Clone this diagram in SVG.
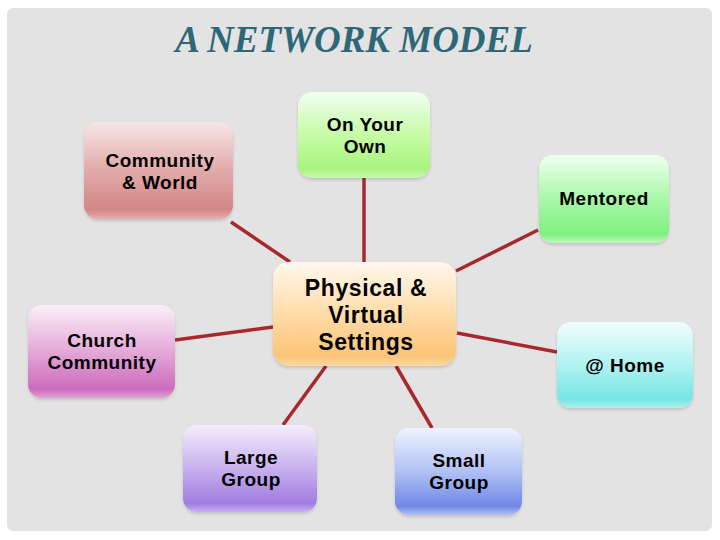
<svg xmlns="http://www.w3.org/2000/svg" width="720" height="540" viewBox="0 0 720 540">
<defs>
<style>
.t{font-family:"Liberation Sans",Arial,sans-serif;font-weight:bold;font-size:19px;letter-spacing:0.5px;fill:#000;text-anchor:middle}
.big{font-size:23px;letter-spacing:0.6px}
.title{font-family:"Liberation Serif","Times New Roman",serif;font-weight:bold;font-style:italic;font-size:37px;fill:#2e6878}
.c line{stroke:#a8282e;stroke-width:3.5;stroke-linecap:butt}
.n rect{filter:url(#sh)}
</style>
<filter id="sh" x="-10%" y="-10%" width="120%" height="125%">
<feDropShadow dx="0" dy="2" stdDeviation="1.5" flood-color="#000" flood-opacity="0.15"/>
</filter>
<linearGradient id="gRed" x1="0" y1="0" x2="0" y2="1"><stop offset="0" stop-color="#f7e6e6"/><stop offset="0.5" stop-color="#e2aaaa"/><stop offset="0.9" stop-color="#d48686"/><stop offset="1" stop-color="#e6b0b0"/></linearGradient>
<linearGradient id="gGreen" x1="0" y1="0" x2="0" y2="1"><stop offset="0" stop-color="#f2fff0"/><stop offset="0.5" stop-color="#c6fba6"/><stop offset="0.9" stop-color="#a8f47e"/><stop offset="1" stop-color="#c8f8b0"/></linearGradient>
<linearGradient id="gMent" x1="0" y1="0" x2="0" y2="1"><stop offset="0" stop-color="#f0fff0"/><stop offset="0.5" stop-color="#a8f8a8"/><stop offset="0.9" stop-color="#80f080"/><stop offset="1" stop-color="#c0f8c0"/></linearGradient>
<linearGradient id="gOr" x1="0" y1="0" x2="0" y2="1"><stop offset="0" stop-color="#fff8ee"/><stop offset="0.5" stop-color="#ffdca8"/><stop offset="0.9" stop-color="#fcc478"/><stop offset="1" stop-color="#fcd8a4"/></linearGradient>
<linearGradient id="gPink" x1="0" y1="0" x2="0" y2="1"><stop offset="0" stop-color="#fbf0f8"/><stop offset="0.5" stop-color="#e4a8d8"/><stop offset="0.9" stop-color="#cc6cbc"/><stop offset="1" stop-color="#e0a0d4"/></linearGradient>
<linearGradient id="gCyan" x1="0" y1="0" x2="0" y2="1"><stop offset="0" stop-color="#f0fefe"/><stop offset="0.5" stop-color="#b0f2f0"/><stop offset="0.9" stop-color="#74e6e2"/><stop offset="1" stop-color="#b0f0ee"/></linearGradient>
<linearGradient id="gPurp" x1="0" y1="0" x2="0" y2="1"><stop offset="0" stop-color="#f4eefc"/><stop offset="0.5" stop-color="#c8b0ee"/><stop offset="0.9" stop-color="#a07ce0"/><stop offset="1" stop-color="#c8b0f0"/></linearGradient>
<linearGradient id="gBlue" x1="0" y1="0" x2="0" y2="1"><stop offset="0" stop-color="#f0f4fe"/><stop offset="0.5" stop-color="#b0c0f4"/><stop offset="0.9" stop-color="#7088e6"/><stop offset="1" stop-color="#b0c0f4"/></linearGradient>
</defs>
<rect x="0" y="0" width="720" height="540" fill="#ffffff"/>
<rect x="7" y="8" width="705" height="523" rx="6" fill="#e3e3e3"/>
<text class="title" x="354" y="52" text-anchor="middle">A NETWORK MODEL</text>
<g id="connectors" class="c">
<line x1="231" y1="222" x2="290" y2="262"/>
<line x1="364" y1="178" x2="364" y2="262"/>
<line x1="538" y1="230" x2="456" y2="271"/>
<line x1="175" y1="340" x2="273" y2="327"/>
<line x1="457" y1="333" x2="557" y2="352"/>
<line x1="326" y1="366" x2="283" y2="425"/>
<line x1="396" y1="366" x2="432" y2="428"/>
</g>
<g id="community-world" class="n"><rect x="84" y="122" width="149" height="97" rx="14" fill="url(#gRed)"/><text class="t" x="160" y="167">Community</text><text class="t" x="160" y="189">&amp; World</text></g>
<g id="on-your-own" class="n"><rect x="298" y="92" width="132" height="86" rx="14" fill="url(#gGreen)"/><text class="t" x="365" y="131">On Your</text><text class="t" x="365" y="153">Own</text></g>
<g id="mentored" class="n"><rect x="539" y="155" width="130" height="88" rx="14" fill="url(#gMent)"/><text class="t" x="604" y="205">Mentored</text></g>
<g id="physical-virtual" class="n"><rect x="273" y="262" width="183" height="104" rx="16" fill="url(#gOr)"/><text class="t big" x="366" y="296">Physical &amp;</text><text class="t big" x="366" y="323">Virtual</text><text class="t big" x="366" y="350">Settings</text></g>
<g id="church-community" class="n"><rect x="28" y="305" width="147" height="93" rx="14" fill="url(#gPink)"/><text class="t" x="102" y="347">Church</text><text class="t" x="102" y="369">Community</text></g>
<g id="home" class="n"><rect x="557" y="322" width="136" height="86" rx="14" fill="url(#gCyan)"/><text class="t" x="625" y="372">@ Home</text></g>
<g id="large-group" class="n"><rect x="183" y="425" width="134" height="87" rx="14" fill="url(#gPurp)"/><text class="t" x="251" y="464">Large</text><text class="t" x="251" y="486">Group</text></g>
<g id="small-group" class="n"><rect x="395" y="428" width="127" height="87" rx="14" fill="url(#gBlue)"/><text class="t" x="459" y="467">Small</text><text class="t" x="459" y="489">Group</text></g>
</svg>
